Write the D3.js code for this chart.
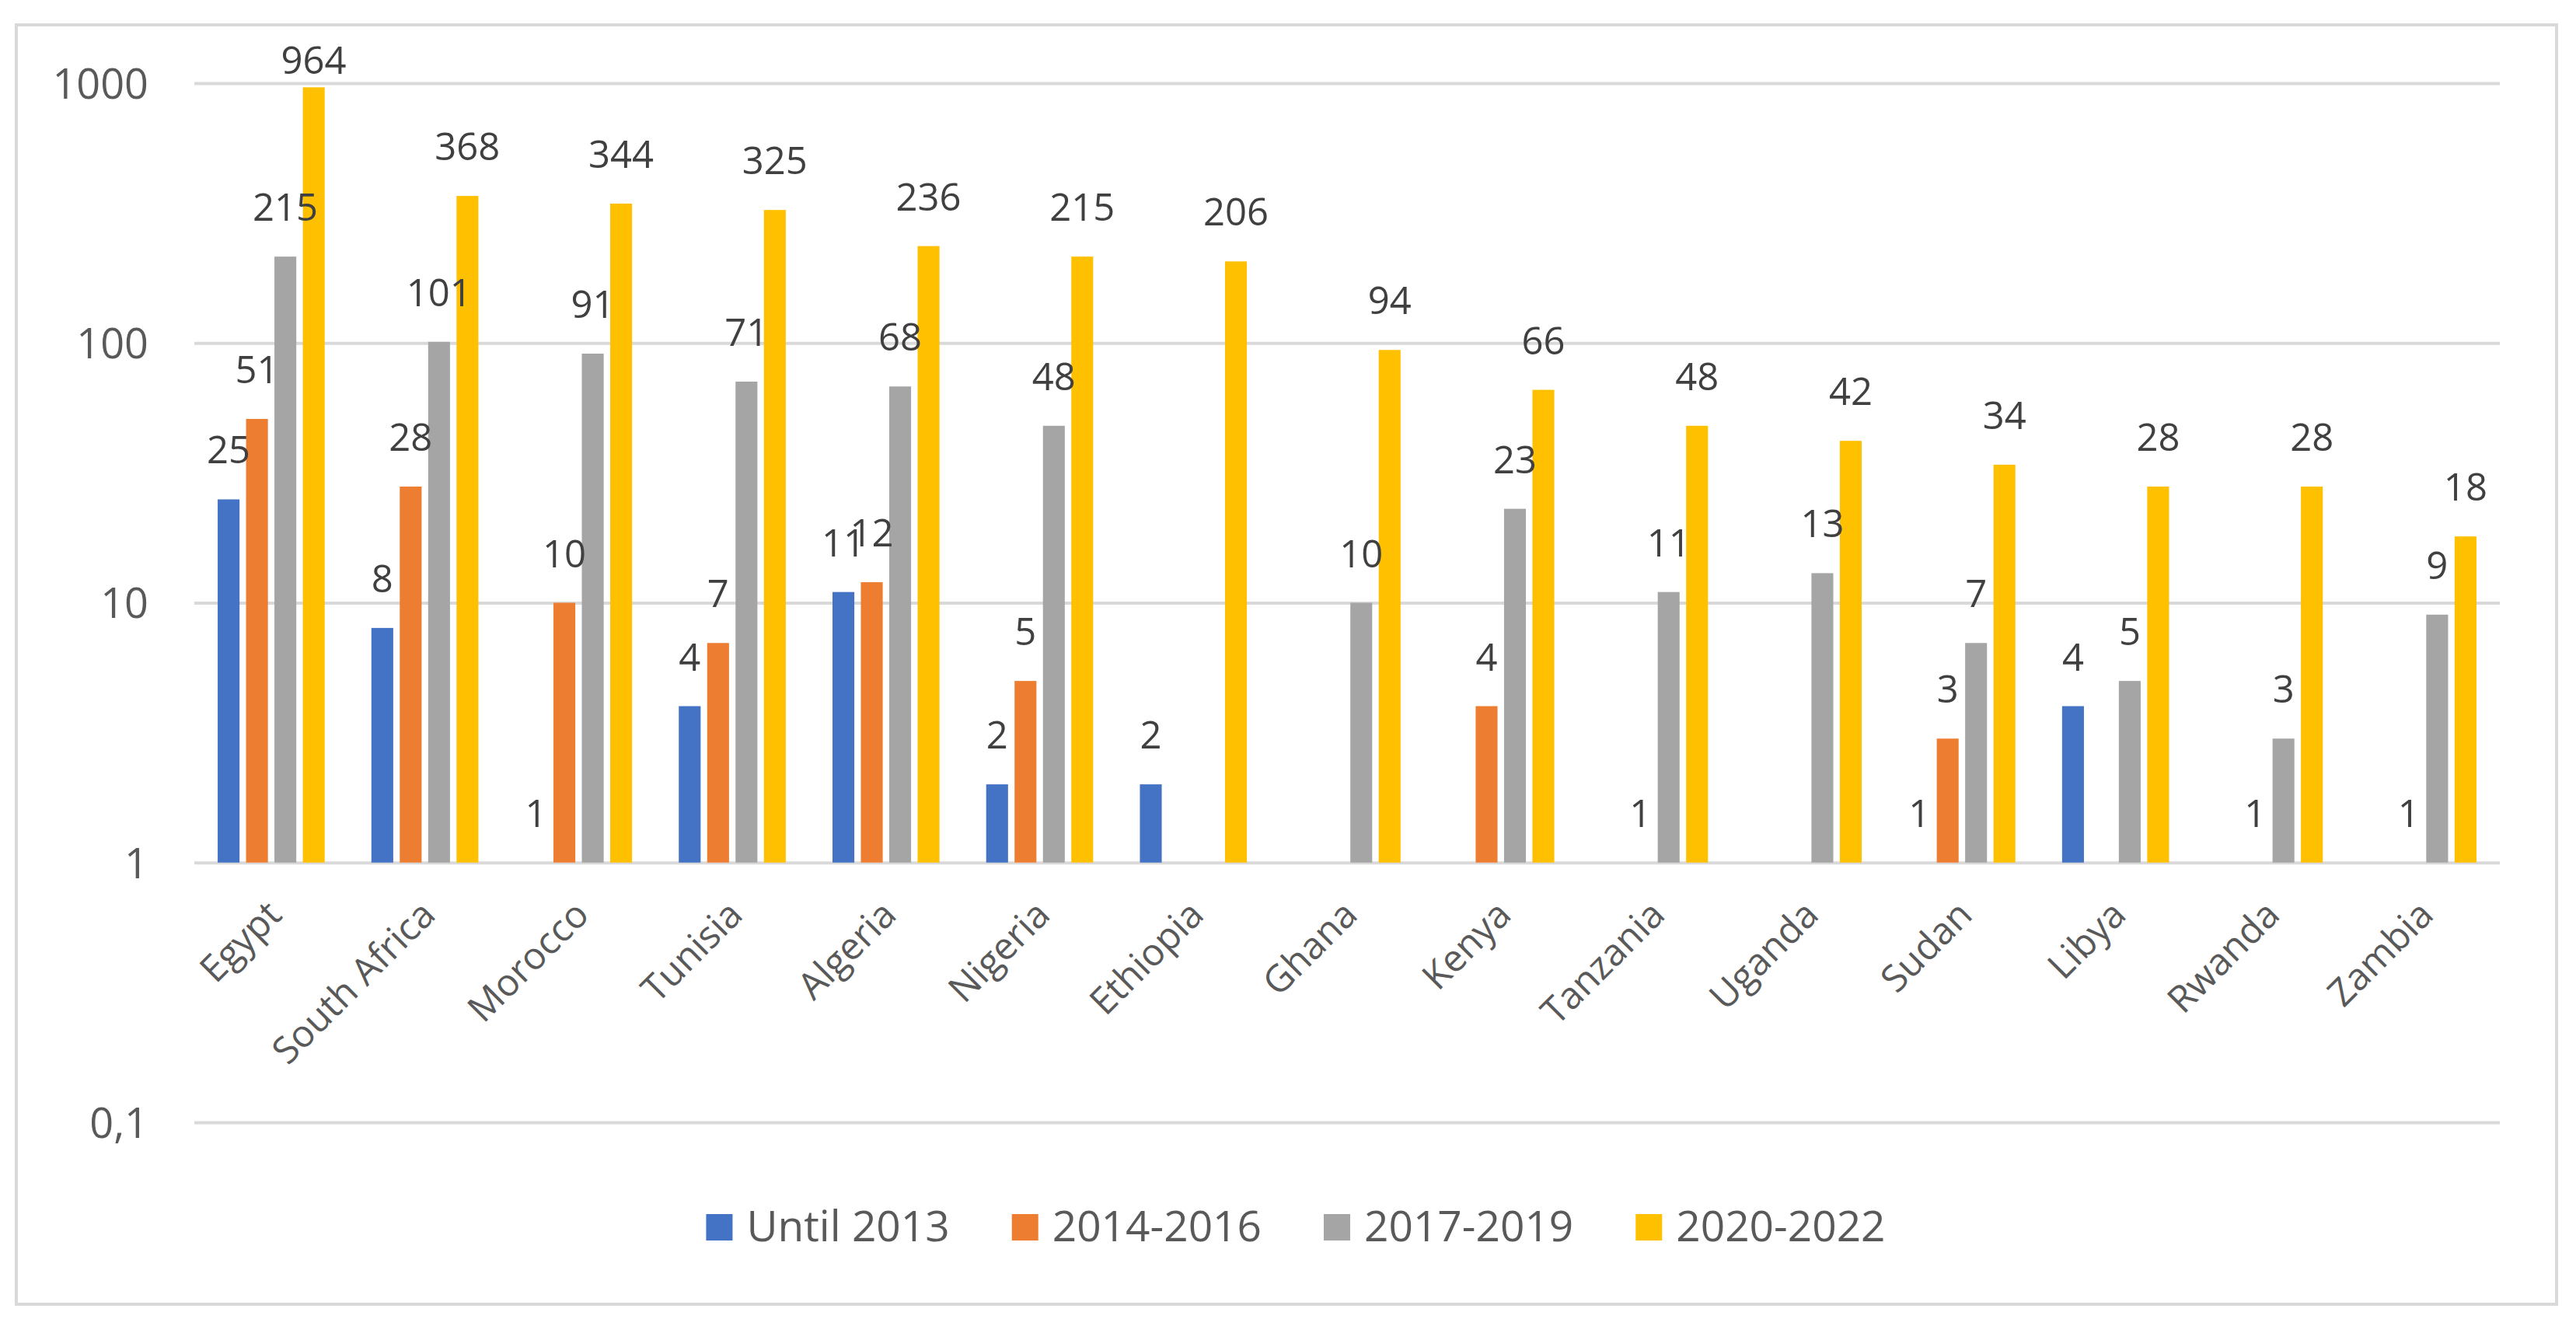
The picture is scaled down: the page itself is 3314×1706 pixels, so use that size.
<!DOCTYPE html>
<html>
<head>
<meta charset="utf-8">
<script src="https://cdn.jsdelivr.net/npm/d3@7"></script>
<style>
  html, body { margin: 0; padding: 0; background: #fff; }
  svg { display: block; }
</style>
</head>
<body>
<svg id="chart"></svg>
<script>
// data (null = no bar, no label)
var countries = ["Egypt", "South Africa", "Morocco", "Tunisia", "Algeria", "Nigeria", "Ethiopia",
  "Ghana", "Kenya", "Tanzania", "Uganda", "Sudan", "Libya", "Rwanda", "Zambia"];
var seriesNames = ["Until 2013", "2014-2016", "2017-2019", "2020-2022"];
var seriesColors = ["#4472C4", "#ED7D31", "#A5A5A5", "#FFC000"];
var until2013 = [25, 8, 1, 4, 11, 2, 2, null, null, null, null, 1, 4, null, null];
var y2014_2016 = [51, 28, 10, 7, 12, 5, null, null, 4, 1, null, 3, null, 1, 1];
var y2017_2019 = [215, 101, 91, 71, 68, 48, null, 10, 23, 11, 13, 7, 5, 3, 9];
var y2020_2022 = [964, 368, 344, 325, 236, 215, 206, 94, 66, 48, 42, 34, 28, 28, 18];
var yTicks = [0.1, 1, 10, 100, 1000];
var yTickLabels = ["0,1", "1", "10", "100", "1000"];

var W = 3314, H = 1706;
var plot = { left: 250, right: 3216, top: 107, bottom: 1444 };
var font = "'Open Sans', 'Noto Sans', sans-serif";

var svg = d3.select("#chart").attr("width", W).attr("height", H);

svg.append("rect")
  .attr("width", W).attr("height", H).attr("fill", "#fff");

// chart area border
svg.append("rect")
  .attr("x", 21).attr("y", 32)
  .attr("width", 3268).attr("height", 1646)
  .attr("fill", "none")
  .attr("stroke", "#d9d9d9")
  .attr("stroke-width", 4);

var allSeries = [until2013, y2014_2016, y2017_2019, y2020_2022];

var x = d3.scaleBand()
  .domain(countries)
  .range([plot.left, plot.right]);

var xInner = d3.scaleBand()
  .domain(seriesNames)
  .range([x.bandwidth() * 0.152, x.bandwidth() * 0.848])
  .paddingInner(0.23);

var y = d3.scaleLog()
  .domain([0.1, 1000])
  .range([plot.bottom, plot.top]);

// y axis with gridlines
var yAxis = svg.append("g")
  .attr("transform", "translate(" + plot.left + ",0)")
  .call(d3.axisLeft(y)
    .tickValues(yTicks)
    .tickFormat(function(d, i) { return yTickLabels[i]; })
    .tickSize(-(plot.right - plot.left))
    .tickPadding(59));

yAxis.select(".domain").remove();
yAxis.selectAll(".tick line")
  .attr("stroke", "#d9d9d9")
  .attr("stroke-width", 4);
yAxis.selectAll(".tick text")
  .attr("fill", "#595959")
  .attr("font-family", font)
  .attr("font-size", 54)
  .attr("dy", "0.36em");

// category axis
var xAxis = svg.append("g")
  .attr("transform", "translate(0," + y(1) + ")")
  .call(d3.axisBottom(x).tickSize(0));

xAxis.select(".domain").remove();
xAxis.selectAll(".tick text")
  .attr("fill", "#595959")
  .attr("font-family", font)
  .attr("font-size", 48)
  .attr("x", 0).attr("y", 0)
  .attr("dy", "0.35em")
  .attr("text-anchor", "end")
  .attr("transform", "translate(4,58) rotate(-45)");

// bars + labels
var groups = svg.append("g").selectAll("g")
  .data(countries)
  .enter()
  .append("g")
  .attr("transform", function(d) { return "translate(" + x(d) + ",0)"; });

groups.each(function(country, ci) {
  var g = d3.select(this);
  var pts = seriesNames.map(function(s, si) {
    return { s: s, si: si, v: allSeries[si][ci] };
  }).filter(function(p) { return p.v != null; });

  g.selectAll("rect")
    .data(pts.filter(function(p) { return p.v > 1; }))
    .enter()
    .append("rect")
    .attr("x", function(p) { return xInner(p.s); })
    .attr("y", function(p) { return y(p.v); })
    .attr("width", xInner.bandwidth())
    .attr("height", function(p) { return y(1) - y(p.v); })
    .attr("fill", function(p) { return seriesColors[p.si]; });

  g.selectAll("text")
    .data(pts)
    .enter()
    .append("text")
    .attr("x", function(p) { return xInner(p.s) + xInner.bandwidth() / 2; })
    .attr("y", function(p) { return Math.max(95, y(p.v) - 46); })
    .attr("text-anchor", "middle")
    .attr("fill", "#404040")
    .attr("font-family", font)
    .attr("font-size", 49)
    .text(function(p) { return p.v; });
});

// legend
var legend = svg.append("g");
var items = legend.selectAll("g")
  .data(seriesNames)
  .enter()
  .append("g");

items.append("rect")
  .attr("width", 34).attr("height", 34)
  .attr("y", 1562)
  .attr("fill", function(d, i) { return seriesColors[i]; });

items.append("text")
  .attr("x", 52)
  .attr("y", 1597)
  .attr("fill", "#595959")
  .attr("font-family", font)
  .attr("font-size", 55)
  .text(function(d) { return d; });

var offs = [], cur = 0;
items.each(function() {
  offs.push(cur);
  cur += 52 + d3.select(this).select("text").node().getComputedTextLength() + 80;
});
var total = cur - 80;
var startX = 1667 - total / 2;
items.attr("transform", function(d, i) { return "translate(" + (startX + offs[i]) + ",0)"; });
</script>
</body>
</html>
